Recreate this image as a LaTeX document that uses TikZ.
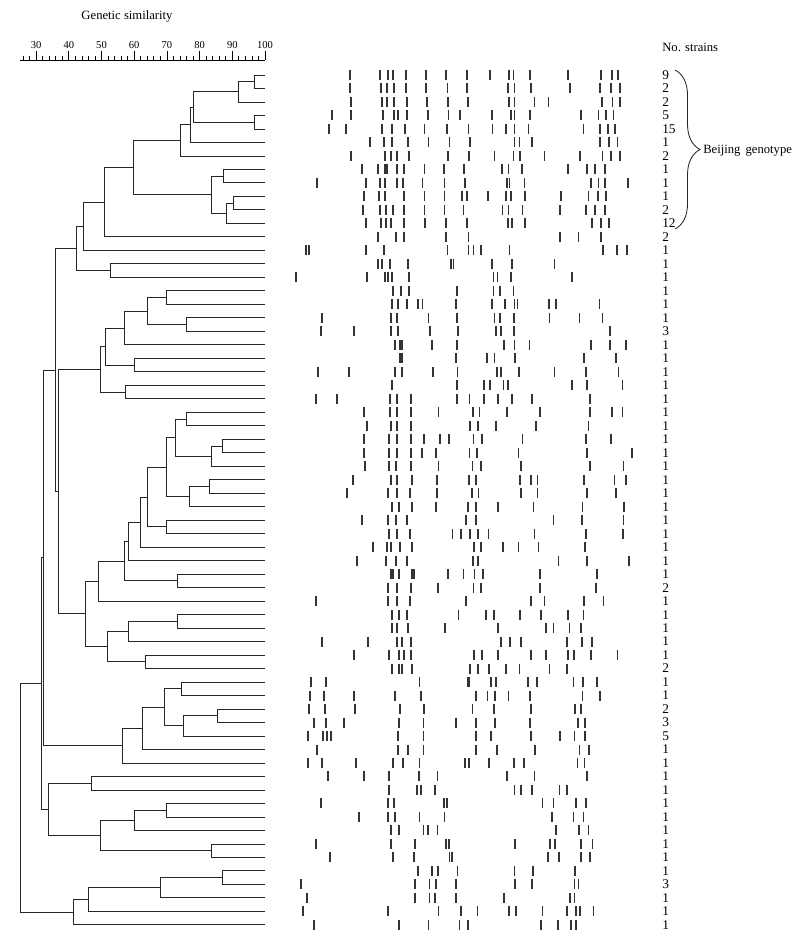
\documentclass[tikz,border=0pt]{standalone}
\usepackage{fontspec}
\setmainfont{Liberation Serif}
\usetikzlibrary{calc,decorations.pathreplacing}

\begin{document}
\begin{tikzpicture}[x=0.25mm, y=-0.25mm, every node/.style={font=\fontsize{9}{11}\selectfont, inner sep=0pt}]
\tikzset{tree/.style={line width=0.6pt, black!85}}
\tikzset{band/.style={line width=0.42mm, black!80}}
\tikzset{tick/.style={line width=0.5pt}}
\tikzset{cnt/.style={anchor=west}}
\useasboundingbox (0,0) rectangle (800,944);
\node (title) at (127,16) {Genetic similarity};
\node[cnt] (head) at (662,47) {No. strains};
\coordinate (ax0) at (20,60);
\coordinate (ax1) at (265,60);
\draw[tick] (ax0) -- (ax1);
\foreach \v in {26,28,...,98}
  \draw[tick] ({265-(100-\v)*3.27},60) -- ++(0,-3.5);
\foreach \v in {30,40,...,100} {
  \draw[tick] ({265-(100-\v)*3.27},60) -- ++(0,-9);
  \node[font=\fontsize{7.5}{8}\selectfont] (v\v) at ({265-(100-\v)*3.27},45) {\v};
}
\foreach \i in {1,...,64}
  \coordinate (l\i) at (265,{75+(\i-1)*13.49});
\foreach \n/\x/\p/\q in {a1/254/l1/l2, a2/238/a1/l3, a3/254/l4/l5, a4/193/a2/a3, a5/190.7/a4/l6,
  a6/180/a5/l7, a7/223/l8/l9, a8/233/l10/l11, a9/226/a8/l12, a10/211/a7/a9, a11/133/a6/a10,
  a12/104/a11/l13, a13/83/a12/l14, a14/110/l15/l16, a15/76/a13/a14,
  b1/166/l17/l18, b2/186/l19/l20, b3/147/b1/b2, b4/124/b3/l21, b5/134/l22/l23, b6/105/b4/b5,
  b7/125/l24/l25, b8/100/b6/b7,
  c1/186/l26/l27, c2/222/l28/l29, c3/211/c2/l30, c4/175/c1/c3, c5/209/l31/l32, c6/189/c5/l33,
  c7/166/c4/c6, c8/166/l34/l35, c9/147/c7/c8, c10/140.7/c9/l36, c11/128.7/c10/l37,
  c12/177/l38/l39, c13/124.7/c11/c12, c14/98.3/c13/l40, c15/177/l41/l42, c16/128.7/c15/l43,
  c17/145.7/l44/l45, c18/107/c16/c17, c19/85.3/c14/c18,
  g1/58/b8/c19, g2/55/a15/g1,
  d1/181.7/l46/l47, d2/217.3/l48/l49, d3/183.7/d2/l50, d4/164.7/d1/d3, d5/142.7/d4/l51,
  d6/122.7/d5/l52, g3/43/g2/d6,
  e1/91.3/l53/l54, e2/166.7/l55/l56, e3/134.7/e2/l57, e4/211.7/l58/l59, e5/100.7/e3/e4,
  e6/48/e1/e5, g4/41/g3/e6,
  f1/222.7/l60/l61, f2/160.3/f1/l62, f3/88.7/f2/l63, f4/73.7/f3/l64, root/20/g4/f4} {
  \coordinate (mid\n) at ($(\p)!0.5!(\q)$);
  \coordinate (\n) at (mid\n -| \x,0);
  \draw[tree] (\n) |- (\p) (\n) |- (\q);
}
\foreach \r/\bl in {
  1/{195,285,308,323,362,422,483,545,615,672,685,735,848,947,980,998},
  2/{195,288,305,328,362,422,487,545,668,688,737,855,945,978,1005},
  3/{197,290,305,328,365,425,488,548,672,688,748,790,950,982,1005},
  4/{140,197,295,328,338,365,428,490,525,620,678,688,735,888,940,962,985},
  5/{133,183,290,320,360,418,485,550,622,663,688,730,895,945,968,990},
  6/{255,298,322,370,430,493,555,688,703,740,945,972,997},
  7/{197,300,318,335,373,488,552,628,685,705,778,885,952,978,1005},
  8/{230,280,300,307,335,357,418,477,537,650,670,710,848,905,930,960},
  9/{95,243,285,300,335,355,412,478,540,665,673,718,918,940,960,1028},
  10/{237,283,300,357,418,478,530,545,608,662,677,720,828,910,938,962},
  11/{233,285,302,323,357,418,478,535,652,670,712,825,903,930,960},
  12/{243,288,303,318,357,420,482,545,668,680,720,920,948,972},
  13/{278,332,358,483,550,825,880,948},
  14/{62,72,243,298,487,550,565,587,673,953,995,1025},
  15/{280,290,315,370,497,505,620,680,808},
  16/{33,245,300,310,322,372,625,637,678,860},
  17/{325,348,373,515,625,645,685},
  18/{320,338,365,400,412,512,620,660,688,697,792,812,943},
  19/{110,318,335,430,515,628,645,687,793,883,952},
  20/{107,207,318,340,435,518,632,648,687,975},
  21/{330,345,352,440,515,657,688,733,918,975,1022},
  22/{345,352,513,605,628,690,897,992},
  23/{98,193,330,352,443,517,635,648,702,808,903,1000},
  24/{322,515,597,615,655,668,860,905,1012},
  25/{92,155,315,335,377,515,553,597,638,680,740,915},
  26/{238,315,335,378,460,563,583,665,765,915,980,1012},
  27/{245,317,337,378,555,578,632,752,910},
  28/{238,312,335,378,417,465,492,565,590,712,903,978},
  29/{238,312,335,377,410,452,553,575,700,905,1040},
  30/{240,312,333,378,460,562,587,708,915,1015},
  31/{205,317,335,382,455,552,572,705,738,757,897,988,1022},
  32/{187,308,335,375,455,560,580,707,757,905,993},
  33/{320,343,380,453,548,572,638,745,892,1017},
  34/{232,308,332,367,542,573,805,890,1015},
  35/{312,335,375,502,528,555,578,610,748,902,1013},
  36/{265,305,318,345,380,567,588,653,700,760,900},
  37/{215,302,332,367,563,578,820,905,1032},
  38/{317,323,343,380,387,488,535,568,593,765,935},
  39/{310,337,378,458,565,588,765,933},
  40/{93,308,335,375,543,738,778,897,955},
  41/{320,343,365,520,602,627,705,768,848,895},
  42/{320,337,370,480,638,782,805,853,888},
  43/{110,248,337,350,378,647,675,707,845,890,920},
  44/{208,313,342,357,377,567,590,638,737,782,848,867,917,997},
  45/{320,342,350,380,555,578,612,662,703,793,845},
  46/{78,122,403,548,553,617,632,728,755,865,893,935},
  47/{75,117,208,330,408,573,607,630,670,735,892,945},
  48/{73,120,210,345,417,562,627,738,870,888},
  49/{88,122,177,343,415,513,572,630,735,878,900},
  50/{68,113,127,138,340,415,573,618,738,825,868,900},
  51/{95,338,368,415,573,635,750,883,912},
  52/{68,112,212,325,355,403,540,552,612,687,717,877,898},
  53/{128,237,312,402,457,665,748,905},
  54/{312,397,408,450,688,707,740,823,845},
  55/{107,308,327,477,485,772,805,872,902},
  56/{222,310,330,403,478,800,865,895},
  57/{318,342,415,428,457,812,882,910},
  58/{93,318,390,483,492,690,795,810,888,922},
  59/{135,323,387,493,500,788,822,887,915},
  60/{398,440,458,517,688,743,870},
  61/{47,390,433,452,513,690,740,868,880},
  62/{67,390,433,450,512,657,855,868},
  63/{53,310,460,527,577,672,692,772,845,872,885,925},
  64/{87,343,430,523,548,768,818,858,872}}
  \foreach \b in \bl
    \draw[band] ({285+\b/3},{75+(\r-1)*13.49-5}) -- ++(0,10);
\foreach \c [count=\i] in {9,2,2,5,15,1,2,1,1,1,2,12,2,1,1,1,1,1,1,3,
  1,1,1,1,1,1,1,1,1,1,1,1,1,1,1,1,1,1,2,1,1,1,1,1,2,1,1,2,3,5,
  1,1,1,1,1,1,1,1,1,1,3,1,1,1}
  \node[cnt, font=\fontsize{9.5}{11}\selectfont] (s\i) at (l\i -| 662,0) {\c};
\coordinate (brtop) at (675,70);
\coordinate (brbot) at (675,229);
\draw[tree, decorate, decoration={brace, amplitude=17.8pt}] (brtop) -- (brbot);
\node[cnt] (beij) at (703,151) {Beijing\hspace{0.4em}genotype};
\end{tikzpicture}
\end{document}
